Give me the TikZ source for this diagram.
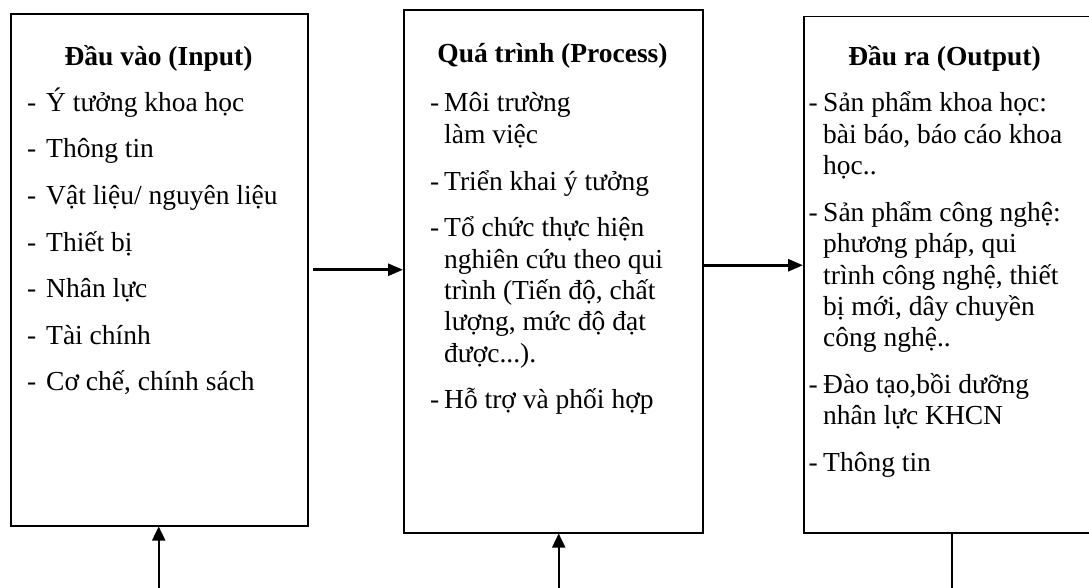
\documentclass[tikz,border=0pt]{standalone}
\usepackage{fontspec}
\setmainfont{Liberation Serif}
\usetikzlibrary{arrows.meta}
\begin{document}
\begin{tikzpicture}[x=1pt,y=-1pt,
  boxst/.style={draw, line width=1.8pt, inner sep=0pt, anchor=north west},
  ttl/.style={font=\fontsize{27.5}{31.4}\selectfont\bfseries, anchor=base, inner sep=0pt},
  txt/.style={font=\fontsize{27.5}{31.4}\selectfont, anchor=base west, inner sep=0pt},
  arr/.style={-{Triangle[length=14pt,width=13pt]}, line width=2pt},
  harr/.style={-{Triangle[length=15pt,width=12pt]}, line width=2.8pt},
]
\useasboundingbox (0,0) rectangle (1089,588);
\fill[white] (0,0) rectangle (1089,588);
\clip (0,0) rectangle (1089,588);

% boxes
\node[boxst, minimum width=297pt, minimum height=511.7pt] (inbox) at (10,13) {};
\node[boxst, minimum width=299pt, minimum height=522.7pt] (procbox) at (403,9) {};
\node[boxst, minimum width=287pt, minimum height=516pt] (outbox) at (803,15.7) {};

% titles
\node[ttl] (intitle) at (158.5,66) {Đầu vào (Input)};
\node[ttl] (proctitle) at (552.5,62.5) {Quá trình (Process)};
\node[ttl] (outtitle) at (944.5,66) {Đầu ra (Output)};

% left items
\foreach \yy/\hh/\lbl [count=\i] in {
  111.5/1/{Ý tưởng khoa học},
  158/1/{Thông tin},
  204.5/1/{Vật liệu/ nguyên liệu},
  251/1/{Thiết bị},
  297.5/1/{Nhân lực},
  344/1/{Tài chính},
  390.5/1/{Cơ chế, chính sách}}{
  \ifnum\hh=1 \node[txt] (inh\i) at (27,\yy) {-};\fi
  \node[txt] (int\i) at (46,\yy) {\lbl};
}

% middle items
\foreach \yy/\hh/\lbl [count=\i] in {
  112/1/{Môi trường},
  143.4/0/{làm việc},
  190/1/{Triển khai ý tưởng},
  236.5/1/{Tổ chức thực hiện},
  268/0/{nghiên cứu theo qui},
  299.3/0/{trình (Tiến độ, chất},
  330.7/0/{lượng, mức độ đạt},
  362/0/{được...).},
  408.5/1/{Hỗ trợ và phối hợp}}{
  \ifnum\hh=1 \node[txt] (proch\i) at (430,\yy) {-};\fi
  \node[txt] (proct\i) at (444,\yy) {\lbl};
}

% right items
\foreach \yy/\hh/\lbl [count=\i] in {
  112/1/{Sản phẩm khoa học:},
  143.4/0/{bài báo, báo cáo khoa},
  174.8/0/{học..},
  221.3/1/{Sản phẩm công nghệ:},
  252.7/0/{phương pháp, qui},
  284.1/0/{trình công nghệ, thiết},
  315.5/0/{bị mới, dây chuyền},
  346.9/0/{công nghệ..},
  393.4/1/{Đào tạo,bồi dưỡng},
  424.8/0/{nhân lực KHCN},
  471.3/1/{Thông tin}}{
  \ifnum\hh=1 \node[txt] (outh\i) at (808.5,\yy) {-};\fi
  \node[txt] (outt\i) at (823,\yy) {\lbl};
}

% horizontal connectors
\draw[harr] ([xshift=4pt]inbox.east) -- (inbox.east -| procbox.west);
\draw[harr] ([yshift=6pt]procbox.east) -- ([yshift=6pt]procbox.east -| outbox.west);

% bottom connectors
\coordinate (inbot) at (158.7,590);
\coordinate (procbot) at (558.7,590);
\coordinate (outbot) at (952,590);
\draw[arr] (inbot) -- (inbot |- inbox.south);
\draw[arr] (procbot) -- (procbot |- procbox.south);
\draw[line width=2pt] (outbot) -- (outbot |- outbox.south);
\end{tikzpicture}
\end{document}
